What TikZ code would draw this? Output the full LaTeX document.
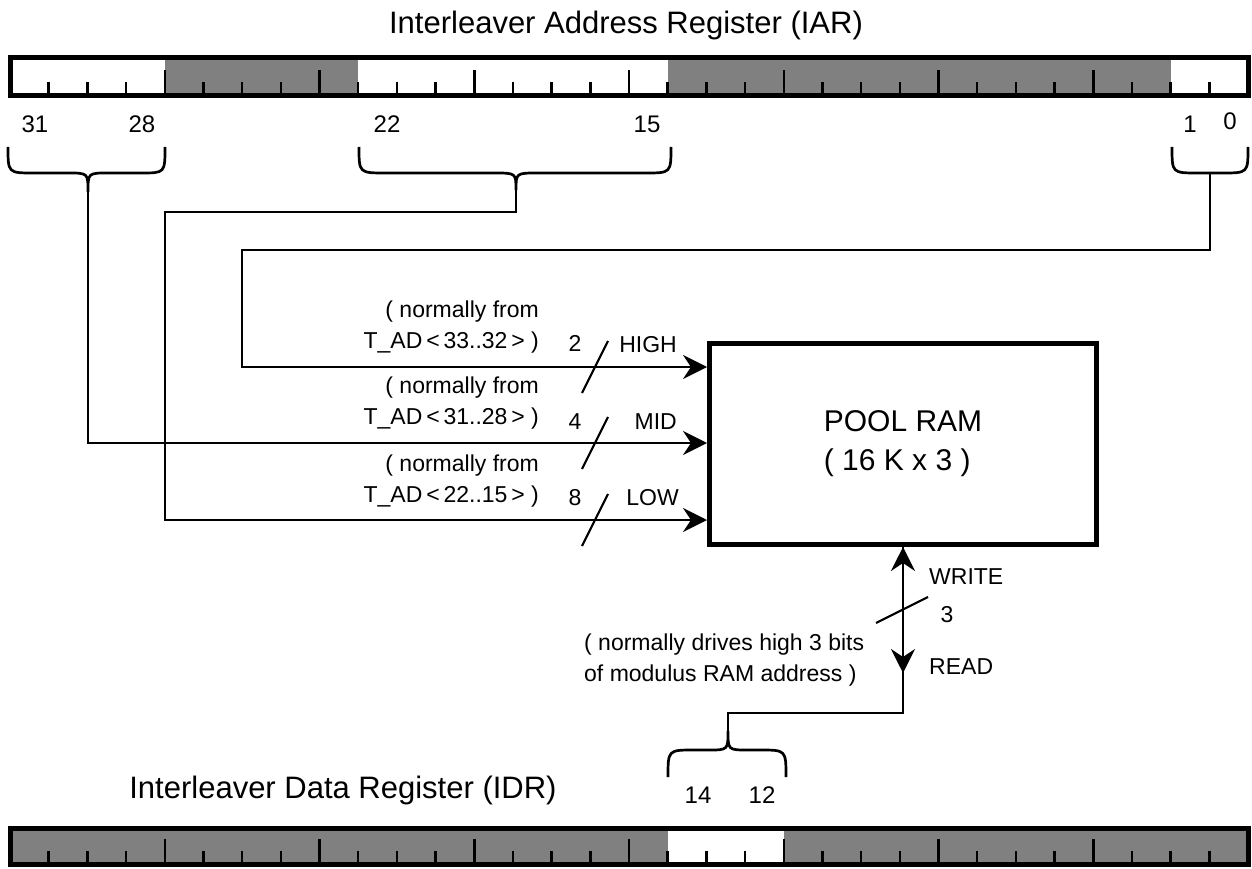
\documentclass[tikz,border=0pt]{standalone}
\usepackage{fontspec}
\setmainfont{Liberation Sans}
\usepackage{xcolor}
\usepackage{tikz}
\usetikzlibrary{arrows.meta}
\definecolor{regGray}{gray}{0.5}
\tikzset{
  reg/.style={rectangle, draw=black, line width=5pt, inner sep=0pt},
  field/.style={fill=regGray},
  tick/.style={line width=2.5pt},
  wire/.style={line width=2.7pt},
  arrow/.style={-{Stealth[length=24pt, width=24pt, inset=8pt]}, line width=2.7pt},
  busmark/.style={line width=2.2pt},
  lbl/.style={inner sep=1pt, font=\fontsize{23}{31}\selectfont},
  bitnum/.style={inner sep=1pt, font=\fontsize{24}{28}\selectfont},
  title/.style={inner sep=1pt, font=\fontsize{31}{36}\selectfont}
}

\begin{document}
\begin{tikzpicture}[x=1pt, y=-1pt]
  \useasboundingbox (0,0) rectangle (1252,869);

  \fill[field] (164.75,57.5) rectangle (358.19,95.5);
  \fill[field] (667.69,57.5) rectangle (1170.63,95.5);
  \fill[field] (10,828.5) rectangle (667.69,864.5);
  \fill[field] (783.75,828.5) rectangle (1248,864.5);
  \foreach \k in {1,...,31}{
    \pgfmathtruncatemacro\nib{mod(\k,4)}
    \ifnum\nib=0 \def\tkh{23}\else\def\tkh{11}\fi
    \draw[tick] (10+\k*38.6875,93) -- ++(0,-\tkh);
    \draw[tick] (10+\k*38.6875,862) -- ++(0,-\tkh);
  }
  \node[reg, minimum width=1238pt, minimum height=38pt] (iar) at (629,76.5) {};
  \node[reg, minimum width=1238pt, minimum height=36pt] (idr) at (629,846.5) {};
  \node[title] (iarTitle) at (626,25) {Interleaver Address Register (IAR)};
  \node[title] (idrTitle) at (343,790) {Interleaver Data Register (IDR)};

  \node[bitnum] (n31) at (35,124) {31};
  \node[bitnum] (n28) at (142,124) {28};
  \node[bitnum] (n22) at (387,124) {22};
  \node[bitnum] (n15) at (647,124) {15};
  \node[bitnum] (n1) at (1190,124) {1};
  \node[bitnum] (n0) at (1230,121) {0};
  \node[bitnum] (n14) at (698,795) {14};
  \node[bitnum] (n12) at (762,795) {12};

  \coordinate (tipA) at (88,192);
  \coordinate (tipB) at (516,190);
  \coordinate (tipC) at (1210,173);
  \coordinate (tipD) at (728,731);
  \draw[wire] (8,147) .. controls (8,173) .. (34,173) -- (68,173) .. controls (88,173) .. (tipA)
    .. controls (88,173) .. (108,173) -- (141,173) .. controls (165,173) .. (165,147);
  \draw[wire] (359,147) .. controls (359,173) .. (386,173) -- (494,173) .. controls (516,173) .. (tipB)
    .. controls (516,173) .. (538,173) -- (645,173) .. controls (671,173) .. (671,147);
  \draw[wire] (1172,147) .. controls (1172,173) .. (1198,173) -- (1222,173) .. controls (1248,173) .. (1248,147);
  \draw[wire] (668,777) .. controls (668,750) .. (694,750) -- (708,750) .. controls (728,750) .. (tipD)
    .. controls (728,750) .. (748,750) -- (760,750) .. controls (786,750) .. (786,777);

  \node[reg, minimum width=387pt, minimum height=201pt, align=left,
    font=\fontsize{30}{39}\selectfont] (pool) at (903,444) {POOL RAM\\( 16 K x 3 )};
  \coordinate (inHigh) at (707,367);
  \coordinate (inMid) at (707,443);
  \coordinate (inLow) at (707,520);

  \draw[arrow] (tipC) |- (242,250) |- (inHigh);
  \draw[arrow] (tipA) |- (inMid);
  \draw[arrow] (tipB) |- (165,212) |- (inLow);
  \foreach \y in {367,443,520}
    \draw[busmark] (582,\y+26) -- (608,\y-26);

  \node[lbl, align=right, anchor=east] (fromHigh) at (540,327.5) {( normally from\\T\_AD\,<\,33..32\,> )};
  \node[lbl, align=right, anchor=east] (fromMid) at (540,403) {( normally from\\T\_AD\,<\,31..28\,> )};
  \node[lbl, align=right, anchor=east] (fromLow) at (540,481) {( normally from\\T\_AD\,<\,22..15\,> )};
  \node[lbl] (wHigh) at (575,343) {2};
  \node[lbl] (wMid) at (575,422) {4};
  \node[lbl] (wLow) at (575,498) {8};
  \node[lbl, anchor=east] (high) at (678,345) {HIGH};
  \node[lbl, anchor=east] (mid) at (678,422) {MID};
  \node[lbl, anchor=east] (low) at (680,498) {LOW};

  \draw[wire] (pool.south) |- (728,713) -- (tipD);
  \draw[arrow] (903,700) -- (pool.south);
  \draw[arrow] (pool.south) -- (903,673);
  \draw[busmark] (876,623) -- (928,597);
  \node[lbl, anchor=west] (write) at (928,577) {WRITE};
  \node[lbl] (rw3) at (947,615) {3};
  \node[lbl, anchor=west] (read) at (928,667) {READ};
  \node[lbl, align=left, anchor=west] (drives) at (583,660) {( normally drives high 3 bits\\of modulus RAM address )};
\end{tikzpicture}
\end{document}
